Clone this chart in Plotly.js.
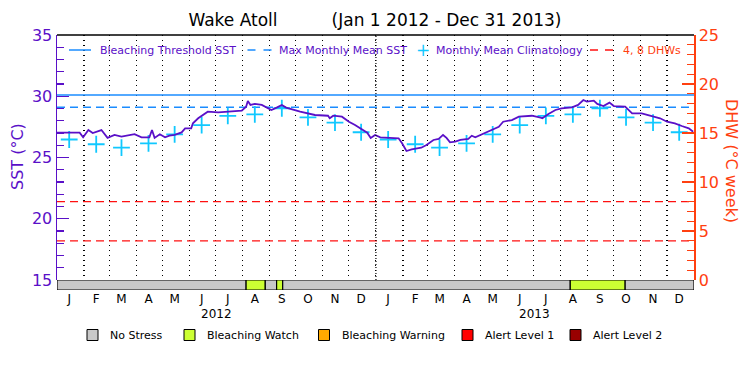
<!DOCTYPE html>
<html>
<head>
<meta charset="utf-8">
<script src="https://cdn.plot.ly/plotly-3.0.1.min.js"></script>
<style>html,body{margin:0;padding:0;background:#fff;}#chart{width:750px;height:375px;}</style>
</head>
<body>
<div id="chart"></div>
<script>
// ---------------- DATA ----------------
const siteName = 'Wake Atoll';
const periodLabel = '(Jan 1 2012 - Dec 31 2013)';
const years = [2012, 2013];
const monthLetters = ['J','F','M','A','M','J','J','A','S','O','N','D'];

// SST series (°C)
const sstDates = ['2012-01-01','2012-01-27','2012-01-31','2012-02-06','2012-02-11','2012-02-21','2012-02-28','2012-03-07','2012-03-15','2012-03-30',
'2012-04-07','2012-04-16','2012-04-19','2012-04-22','2012-04-28','2012-05-04','2012-05-09','2012-05-15','2012-05-23','2012-05-27',
'2012-06-03','2012-06-05','2012-06-11','2012-06-17','2012-06-22','2012-07-04','2012-07-23','2012-07-31','2012-08-05','2012-08-07',
'2012-08-10','2012-08-15','2012-08-23','2012-08-30','2012-09-03','2012-09-09','2012-09-15','2012-09-20','2012-09-26','2012-10-06',
'2012-10-23','2012-11-07','2012-11-09','2012-11-13','2012-11-23','2012-12-01','2012-12-08','2012-12-16','2012-12-22','2012-12-26',
'2012-12-31','2013-01-06','2013-01-15','2013-01-27','2013-01-31','2013-02-05','2013-02-11','2013-02-22','2013-02-28','2013-03-08',
'2013-03-14','2013-03-19','2013-03-23','2013-03-27','2013-04-02','2013-04-08','2013-04-17','2013-04-21','2013-04-25','2013-05-03',
'2013-05-14','2013-05-22','2013-05-27','2013-06-06','2013-06-14','2013-06-29','2013-07-09','2013-07-11','2013-07-18','2013-07-26',
'2013-08-02','2013-08-14','2013-08-21','2013-08-27','2013-08-31','2013-09-08','2013-09-12','2013-09-19','2013-09-26','2013-10-01',
'2013-10-14','2013-10-22','2013-11-02','2013-11-12','2013-11-23','2013-12-01','2013-12-10','2013-12-18','2013-12-26','2013-12-31'];
const sstValues = [27.03,27.03,26.65,27.24,27.0,27.24,26.6,26.84,26.7,26.9,
26.65,26.65,27.24,26.6,26.9,26.65,26.78,26.84,27.05,27.38,
27.38,27.79,28.2,28.52,28.74,28.69,28.74,28.82,29.15,29.61,
29.29,29.37,29.29,29.07,28.88,29.07,29.29,29.07,28.93,28.74,
28.47,28.41,28.2,28.41,28.33,27.92,27.65,27.33,27.03,26.6,
26.84,26.65,26.6,26.57,26.16,25.53,25.67,25.8,26.02,26.43,
26.51,26.84,26.6,26.24,26.29,26.43,26.51,26.78,26.65,26.9,
27.3,27.51,27.92,28.06,28.33,28.41,28.25,28.2,28.55,28.88,
29.01,29.1,29.29,29.69,29.56,29.64,29.37,29.2,29.48,29.2,
29.15,28.61,28.61,28.39,28.2,27.92,27.79,27.57,27.38,27.1];

// Monthly mean climatology (°C), Jan..Dec
const climValues = [26.47,26.08,25.8,26.16,26.89,27.65,28.39,28.52,29.02,28.28,27.84,27.06];

const bleachingThreshold = 30.1;
const maxMonthlyMean = 29.1;
const dhwLevels = [4, 8];

// Status bar segments
const statusStart = ['2012-01-01','2012-08-05','2012-08-27','2012-09-09','2012-09-16','2013-08-12','2013-10-14'];
const statusEnd   = ['2012-08-05','2012-08-27','2012-09-09','2012-09-16','2013-08-12','2013-10-14','2014-01-01'];
const statusLevel = [0,1,0,1,0,1,0];
const statusNames = ['No Stress','Bleaching Watch','Bleaching Warning','Alert Level 1','Alert Level 2'];
const statusColors = ['#c8c8c8','#ccff33','#ffaa00','#ff0000','#990000'];

const xStart = '2012-01-01', xEnd = '2014-01-01';

// ---------------- STYLE ----------------
const PURPLE = '#5a10c8';
const BLUE = '#1a8cff';
const CYAN = '#10c8ff';
const ORANGE = '#ff4010';
const RED = '#ff1010';
const FONT = 'DejaVu Sans, sans-serif';

const L = 57, R = 694, T = 35, B = 290;
const px = v => (v - L) / (R - L);
const py = v => (B - v) / (B - T);
const pad2 = n => String(n).padStart(2, '0');

const midMonths = [], monthTickText = [], monthStarts = [], climDates = [], climY = [];
years.forEach(y => monthLetters.forEach((m, i) => {
  midMonths.push(`${y}-${pad2(i+1)}-15`);
  monthTickText.push(m);
  monthStarts.push(`${y}-${pad2(i+1)}-01`);
  climDates.push(`${y}-${pad2(i+1)}-15`);
  climY.push(climValues[i]);
}));

const traces = [];
traces.push({x:[xStart,xEnd], y:[bleachingThreshold,bleachingThreshold], mode:'lines', line:{color:BLUE,width:1.5}, xaxis:'x', yaxis:'y', hoverinfo:'skip'});
traces.push({x:[xStart,xEnd], y:[maxMonthlyMean,maxMonthlyMean], mode:'lines', line:{color:BLUE,width:1.5,dash:'8px,5px'}, xaxis:'x', yaxis:'y', hoverinfo:'skip'});
dhwLevels.forEach(d => traces.push({x:[xStart,xEnd], y:[d,d], mode:'lines', line:{color:RED,width:1.3,dash:'8px,5px'}, xaxis:'x', yaxis:'y2', hoverinfo:'skip'}));
traces.push({x:climDates, y:climY, mode:'markers', marker:{symbol:'cross-thin', size:12, line:{color:CYAN,width:1.8}}, xaxis:'x', yaxis:'y'});
traces.push({x:sstDates, y:sstValues, mode:'lines', line:{color:PURPLE,width:1.8}, xaxis:'x', yaxis:'y'});
traces.push({
  type:'bar', orientation:'h', xaxis:'x', yaxis:'y3',
  base: statusStart,
  x: statusStart.map((s,i) => Date.parse(statusEnd[i]) - Date.parse(s)),
  y: statusStart.map(() => 0.5), width: 1,
  marker:{color: statusLevel.map(l => statusColors[l]), line:{color:'#000',width:1.2}},
  hoverinfo:'skip'
});

const annotations = [];
const shapes = [];
const ann = (o) => annotations.push(Object.assign({xref:'paper', yref:'paper', showarrow:false, xanchor:'center', yanchor:'middle'}, o));

shapes.push({type:'line', xref:'paper', yref:'paper', x0:0, x1:1, y0:1, y1:1, line:{color:'#000',width:1.5}});
years.slice(1).forEach(y => shapes.push({type:'line', xref:'x', yref:'paper', x0:`${y}-01-01`, x1:`${y}-01-01`, y0:py(280), y1:1, line:{color:'#000',width:1.2,dash:'1px,2px'}}));

years.forEach(y => ann({xref:'x', x:`${y}-07-02`, y:py(314), text:String(y), font:{family:FONT,size:12,color:'#000'}}));

ann({x:px(17), y:py(157), text:'SST (°C)', textangle:-90, font:{family:FONT,size:16,color:PURPLE}});
ann({x:px(732), y:py(161), text:'DHW (°C week)', textangle:90, font:{family:FONT,size:16,color:ORANGE}});

const ly = py(50);
shapes.push({type:'line', xref:'paper', yref:'paper', x0:px(69), x1:px(91), y0:ly, y1:ly, line:{color:BLUE,width:1.5}});
ann({x:px(98), y:ly, xanchor:'left', text:'Bleaching Threshold SST', font:{family:FONT,size:11,color:PURPLE}});
shapes.push({type:'line', xref:'paper', yref:'paper', x0:px(247.5), x1:px(271.5), y0:ly, y1:ly, line:{color:BLUE,width:1.5,dash:'8px,8px'}});
ann({x:px(277), y:ly, xanchor:'left', text:'Max Monthly Mean SST', font:{family:FONT,size:11,color:PURPLE}});
ann({x:px(422.5), y:ly, text:'+', font:{family:FONT,size:17,color:CYAN}});
ann({x:px(434), y:ly, xanchor:'left', text:'Monthly Mean Climatology', font:{family:FONT,size:11,color:PURPLE}});
shapes.push({type:'line', xref:'paper', yref:'paper', x0:px(590), x1:px(613), y0:ly, y1:ly, line:{color:RED,width:1.5,dash:'8px,7px'}});
ann({x:px(620.5), y:ly, xanchor:'left', text:'4, 8 DHWs', font:{family:FONT,size:11,color:ORANGE}});

const sqX = [87, 184, 318.5, 462, 570];
statusNames.forEach((n,i) => {
  shapes.push({type:'rect', xref:'paper', yref:'paper', x0:px(sqX[i]), x1:px(sqX[i]+11), y0:py(340.5), y1:py(329.5), fillcolor:statusColors[i], line:{color:'#000',width:1}});
  ann({x:px(sqX[i]+21), y:py(335), xanchor:'left', text:n, font:{family:FONT,size:11,color:'#000'}});
});

const nb = '\u00a0';
const layout = {
  width:750, height:375,
  margin:{l:L, r:750-R, t:T, b:375-B},
  paper_bgcolor:'#fff', plot_bgcolor:'#fff',
  showlegend:false,
  title:{text: siteName + nb.repeat(10) + periodLabel, x:0.5, xanchor:'center', y:1-20/375, yanchor:'middle', font:{family:FONT,size:17,color:'#000'}},
  xaxis:{type:'date', range:[xStart,xEnd], anchor:'y3', tickmode:'array', tickvals:midMonths, ticktext:monthTickText,
    ticks:'', showgrid:false, zeroline:false, showline:false, tickfont:{family:FONT,size:12,color:'#000'},
    minor:{tickmode:'array', tickvals:monthStarts, showgrid:true, gridcolor:'#000', gridwidth:1.1, griddash:'1px,4px', ticks:''}},
  yaxis:{domain:[10/255,1], range:[15,35], anchor:'x', side:'left', tickmode:'linear', tick0:15, dtick:5,
    ticks:'inside', ticklen:12, tickwidth:1.3, tickcolor:PURPLE, showline:true, linecolor:PURPLE, linewidth:1.5,
    showgrid:false, zeroline:false, tickfont:{family:FONT,size:16,color:PURPLE},
    minor:{dtick:1, ticks:'inside', ticklen:7, tickwidth:1.3, tickcolor:PURPLE, showgrid:false}},
  yaxis2:{overlaying:'y', side:'right', anchor:'x', range:[0,25], tickmode:'linear', tick0:0, dtick:5,
    ticks:'inside', ticklen:12, tickwidth:1.3, tickcolor:ORANGE, showline:true, linecolor:ORANGE, linewidth:1.5,
    showgrid:false, zeroline:false, tickfont:{family:FONT,size:16,color:ORANGE},
    minor:{dtick:1, ticks:'inside', ticklen:7, tickwidth:1.3, tickcolor:ORANGE, showgrid:false}},
  yaxis3:{domain:[0,10/255], range:[0,1], anchor:'x', showticklabels:false, ticks:'', showgrid:false, zeroline:false, showline:false, fixedrange:true},
  shapes: shapes,
  annotations: annotations
};

Plotly.newPlot('chart', traces, layout, {displayModeBar:false, staticPlot:true});
</script>
</body>
</html>
